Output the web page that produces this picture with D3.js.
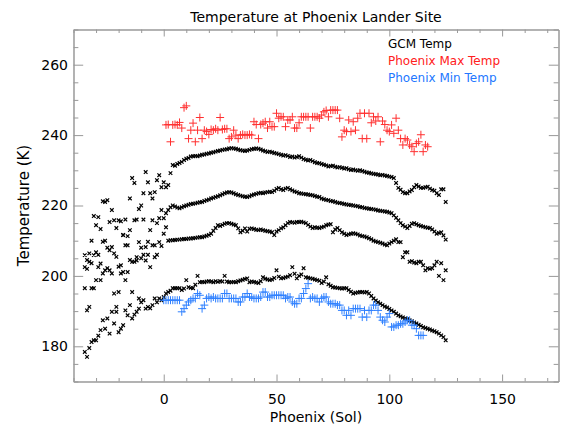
<!DOCTYPE html>
<html>
<head>
<meta charset="utf-8">
<script src="https://cdn.jsdelivr.net/npm/d3@7/dist/d3.min.js"></script>
<style>
  html, body { margin: 0; padding: 0; background: #fff; }
  text { font-family: "DejaVu Sans", sans-serif; }
</style>
</head>
<body>
<svg id="chart" width="563" height="427"></svg>
<script>
// ---------------- DATA ----------------
const title = "Temperature at Phoenix Lander Site";
const xTitle = "Phoenix (Sol)";
const yTitle = "Temperature (K)";
const legendLabels = ["GCM Temp", "Phoenix Max Temp", "Phoenix Min Temp"];
const xTicks = [0, 50, 100, 150];
const yTicks = [180, 200, 220, 240, 260];

// GCM series, one value per sol starting at gcmStartSol
const gcmStartSol = -35;
const gcmA = [
  205.9, 204.5, 206.4, 210, 217, 214.4, 216.7, 213.3, 221.2, 221,
  221.5, 215.3, 218.7, 215.8, 213.6, 215.8, 215.5, 211.6, 216, 211.3,
  222, 227.8, 226.4, 216, 219, 220, 223.5, 229.5, 226.6, 223.5,
  222, 223.8, 227.2, 228.6, 225.2,
  226.6, 225.2, 225.8, 229.2, 231.5, 231.3, 231.8, 232.1, 232.4, 232.9,
  233.3, 233.5, 233.9, 234, 234.1, 234, 234.2, 234.4, 234.5, 234.7,
  234.8, 235, 235.1, 235.3, 235.5, 235.6, 235.8, 235.9, 236, 236.2,
  236.3, 236.2, 236.1, 235.9, 235.7, 235.6, 235.5, 235.6, 235.8, 236,
  236.1, 236.2, 236.1, 235.9, 235.6, 235.4, 235.2, 235.3, 235.1, 234.9,
  234.8, 234.6, 234.4, 234.2, 234.3, 234.1, 233.8, 233.9, 233.6, 233.8,
  234, 233.6, 233.2, 233, 232.8, 232.9, 232.6, 232.3, 232.1, 232,
  231.8, 231.6, 231.4, 231.1, 231.2, 231.3, 231, 230.8, 230.9, 230.7,
  230.5, 230.6, 230.3, 230.1, 230.2, 230, 229.9, 230, 229.8, 229.6,
  229.4, 229.3, 229.1, 229, 228.9, 228.8, 228.6, 228.7, 228.5, 228.4,
  228.2, 228.1, 227.8, 226.4, 225, 224.5, 223.8, 223.5, 223.5, 224,
  224.4, 225.2, 225.8, 225.4, 225, 225, 225.2, 225.3, 224.8, 224.4,
  224.2, 223.5, 223, 224.6, 224.6, 221
];
const gcmB = [
  202.5, 202, 204, 203.6, 205.9, 206.7, 206, 203.5, 209.7, 210,
  208, 207.3, 208.2, 206.4, 205.4, 202.6, 203, 211.6, 208.7, 208.7,
  213, 204, 215.8, 205.3, 209.6, 208, 216, 208.2, 209.7, 213,
  215.8, 208.7, 215, 216.4, 218.7,
  216.4, 217.8, 218.7, 219.5, 220, 219.7, 219.4, 219.2, 219.5, 219.8,
  220, 220.2, 220.4, 220.5, 220.6, 220.8, 220.9, 221, 221.3, 221.5,
  221.7, 222, 222.2, 222.4, 222.6, 222.9, 223.2, 223.5, 223.7, 223.8,
  223.7, 223.5, 223.2, 223, 222.8, 222.6, 222.5, 222.4, 222.6, 222.9,
  223.1, 223.3, 223.5, 223.6, 223.5, 223.7, 223.8, 223.9, 223.8, 224.2,
  224.7, 225, 224.6, 224.4, 224.8, 225, 224.6, 224.3, 224, 223.8,
  223.5, 223.4, 223.3, 223.2, 223.1, 223, 222.9, 222.7, 222.5, 222.4,
  222, 221.8, 221.6, 221.5, 221.3, 221.2, 221, 220.8, 220.7, 220.6,
  220.4, 220.3, 220.2, 220.1, 220, 219.9, 219.8, 219.6, 219.5, 219.3,
  219.2, 219.1, 219, 218.9, 218.8, 218.6, 218.5, 218.4, 218.3, 218.2,
  218, 217.8, 217.2, 216.5, 215.8, 215, 214.4, 214, 213.6, 214.2,
  214.8, 215, 214.7, 214.4, 214.2, 214, 213.8, 213.7, 213.6, 213.2,
  212.6, 212, 212.2, 212.4, 211.5, 210.3
];
const gcmC = [
  196.5, 190.2, 191.2, 196.5, 196.5, 198.8, 202.5, 198.8, 200.7, 201.6,
  202.2, 201.6, 200.7, 195, 191.2, 195.4, 200.7, 201.1, 198.8, 201.1,
  204.5, 195.4, 204, 204.4, 193.6, 205, 206, 204.4, 206, 202.5,
  208.7, 205.3, 206, 209.6, 208.5,
  212, 213.8, 210, 210.1, 210.1, 210.2, 210.3, 210.3, 210.4, 210.5,
  210.5, 210.6, 210.6, 210.7, 210.8, 210.9, 211, 211, 211.2, 211.4,
  211.6, 212, 212.8, 213.6, 214.4, 214.2, 214.5, 214.8, 215, 215,
  214.8, 214.6, 214.4, 213.5, 212.4, 212.8, 213.5, 212.6, 213.4, 213.5,
  213.3, 213.1, 213, 213.2, 213, 212.8, 212.7, 212.6, 212.4, 211.6,
  212.6, 213, 213.5, 213.8, 214.4, 215, 215.3, 215.2, 215.1, 215.3,
  215.3, 215.4, 215.2, 215, 214.5, 214, 213.6, 213.8, 213.7, 213.6,
  213.8, 214, 214.4, 214.6, 214.7, 212.4, 213.2, 213.6, 213, 212.4,
  212, 211.6, 211.8, 212, 212.1, 212, 211.8, 211.5, 211.3, 211.2,
  211, 210.7, 210.4, 210, 209.8, 209.6, 209.4, 209.2, 208.9, 208.7,
  209.2, 209.6, 210, 210.4, 209.6, 209.6, 205.3, 206.7, 206.7, 204,
  204.2, 203.8, 203.6, 204, 204, 203, 201.6, 202.2, 202, 202.2,
  203, 204, 200, 203.6, 198.8, 201.6
];
const gcmD = [
  178.4, 177, 179.5, 181.2, 181.7, 181.7, 183, 184.6, 187.4, 185,
  187.9, 183.6, 189.8, 186.5, 189.8, 184, 185, 186, 190.2, 188.8,
  191.7, 187.9, 189, 189.8, 190.7, 192.5, 193.1, 190.7, 191.2, 190.8,
  191.7, 193.6, 192.5, 193.6, 193.1,
  194, 195, 195.4, 195.8, 196.5, 196.5, 196.5, 196.5, 196, 196.4,
  198.8, 196.8, 196.6, 196.5, 197.5, 200, 198.2, 198.3, 198.2, 198.4,
  198.5, 198.4, 198.2, 198.5, 198.3, 198.5, 198.4, 200, 198.4, 198.2,
  198.2, 198.3, 198.2, 198.5, 198.7, 198.9, 199.1, 199.3, 198.2, 198.4,
  198.3, 198.1, 198, 198.5, 199.6, 199.2, 199, 198.8, 199, 199.4,
  201.6, 199.8, 199.3, 199.4, 199.6, 199.8, 200.2, 202.5, 200.6, 199.3,
  200, 200.4, 202.2, 199.6, 199.5, 199.3, 199.2, 199, 198.8, 198.6,
  198, 198.4, 199.6, 197.6, 197.2, 196.8, 196.7, 196.6, 196.5, 196.4,
  196.5, 196.5, 196, 195.5, 195, 195.2, 195.3, 195.4, 195.4, 195.3,
  195.4, 195, 194.3, 193.6, 193, 192.5, 192.1, 191.7, 191.3, 191,
  190.6, 190.2, 189.8, 189.3, 188.8, 188.5, 188.2, 187.9, 187.7, 187.4,
  187.1, 186.8, 186.5, 186.1, 185.8, 185.4, 185.2, 185, 184.8, 184.5,
  184.3, 184, 183.6, 183.1, 182.6, 181.7
];

// Phoenix measured maximum temperature, one value per sol from maxStartSol
const maxStartSol = 1;
const maxTemp = [
  242.9, 243, 238.1, 242.9, 243, 242.9, 243.6, 242, 247.8, 248.3,
  239, 241.4, 243.4, 238.1, 241.4, 245, 239, 241.4, 241, 240.2,
  241.6, 241.4, 241.8, 241.4, 245, 241.6, 241.8, 241.8, 239, 239.5,
  241.4, 240, 239, 240, 240.2, 240, 240, 240.2, 240, 243.8,
  243, 239, 243, 243.4, 243.8, 242, 243.8, 242.4, 242.4, 246.2,
  244.8, 245.2, 245.2, 242.4, 244.3, 244.3, 245.2, 242, 242, 243.5,
  245.2, 245.2, 245.2, 245.2, 242, 245.2, 245.2, 245.2, 244.8, 245.7,
  246.6, 247, 245.2, 247.1, 247.1, 247.1, 247.1, 244.8, 239.5, 241.4,
  241, 244.3, 241, 243.8, 241.4, 244.8, 246.2, 239, 246.2, 239,
  246.2, 243.5, 245.2, 244, 245.2, 238.1, 244, 243, 241.4, 241,
  242.9, 240.5, 244.8, 241.4, 239, 237.2, 239, 238.6, 237.2, 236.7,
  235.3, 237.6, 238.1, 240.1, 235.3, 237.2, 236.7
];

// Phoenix measured minimum temperature, one value per sol from minStartSol
const minStartSol = 0;
const minTemp = [
  193.1, 193.1, 193.1, 193.1, 193.1, 193.1, 193.1, 193.1, 189.8, 190.7,
  191.7, 192.6, 193.1, 193.6, 193.6, 195, 194.5, 190.7, 191.7, 193.6,
  194, 193.6, 194, 193.6, 193.6, 193.6, 193.6, 195, 195, 193.6,
  193.6, 193.6, 193.6, 192.6, 192.6, 194, 194, 195, 194, 194,
  193.6, 193.6, 193.6, 194, 195.4, 195.4, 194, 194, 194.5, 194.5,
  194.5, 194.5, 194.5, 194.5, 193.6, 194, 194, 192.6, 192.1, 192.1,
  193.6, 193.6, 195, 196.4, 197.8, 193.6, 194, 193.6, 193.6, 192.6,
  193.6, 194, 194, 192.6, 192.1, 192.1, 192.1, 191.7, 191.7, 190.2,
  190.2, 188.8, 190.2, 188.8, 190.7, 190.7, 190.7, 190.7, 188.3, 190.2,
  188.3, 190.2, 190.2, 191.7, 191.7, 190.2, 188.3, 187.4, 186.9, 188.3,
  189.3, 185.5, 185.5, 186, 186, 186.4, 186.4, 186.9, 187.4, 187.4,
  186, 186, 185, 183.1, 183.1, 183.1
];

// ---------------- CHART ----------------
const svg = d3.select("#chart");
const L = 73.5, R = 558.5, T = 29.5, B = 381.5;
const x = d3.scaleLinear().domain([-40, 175]).range([L, R]);
const y = d3.scaleLinear().domain([170, 270]).range([B, T]);

const axisColor = "#999";
const xMinor = d3.range(-40, 176, 10).filter(v => !xTicks.includes(v));
const yMinor = d3.range(170, 271, 5).filter(v => !yTicks.includes(v));

function styleAxis(g) {
  g.selectAll("path.domain").attr("stroke", axisColor).attr("stroke-width", 1);
  g.selectAll(".tick line").attr("stroke", axisColor).attr("stroke-width", 1);
  g.selectAll(".tick text").attr("fill", "#000")
    .style("font-family", "'DejaVu Sans', sans-serif").style("font-size", "14px");
}

const xLen = 7, yLen = 9.7;
// bottom
svg.append("g").attr("transform", `translate(0,${B})`)
  .call(d3.axisBottom(x).tickValues(xMinor).tickSizeInner(-xLen / 2).tickSizeOuter(0).tickFormat(""))
  .call(styleAxis);
svg.append("g").attr("transform", `translate(0,${B})`)
  .call(d3.axisBottom(x).tickValues(xTicks).tickSizeInner(-xLen).tickSizeOuter(0).tickPadding(12.5).tickFormat(d3.format("d")))
  .call(styleAxis);
// top
svg.append("g").attr("transform", `translate(0,${T})`)
  .call(d3.axisTop(x).tickValues(xMinor).tickSizeInner(-xLen / 2).tickSizeOuter(0).tickFormat(""))
  .call(styleAxis);
svg.append("g").attr("transform", `translate(0,${T})`)
  .call(d3.axisTop(x).tickValues(xTicks).tickSizeInner(-xLen).tickSizeOuter(0).tickFormat(""))
  .call(styleAxis);
// left
svg.append("g").attr("transform", `translate(${L},0)`)
  .call(d3.axisLeft(y).tickValues(yMinor).tickSizeInner(-yLen / 2).tickSizeOuter(0).tickFormat(""))
  .call(styleAxis);
svg.append("g").attr("transform", `translate(${L},0)`)
  .call(d3.axisLeft(y).tickValues(yTicks).tickSizeInner(-yLen).tickSizeOuter(0).tickPadding(5.5).tickFormat(d3.format("d")))
  .call(styleAxis);
// right
svg.append("g").attr("transform", `translate(${R},0)`)
  .call(d3.axisRight(y).tickValues(yMinor).tickSizeInner(-yLen / 2).tickSizeOuter(0).tickFormat(""))
  .call(styleAxis);
svg.append("g").attr("transform", `translate(${R},0)`)
  .call(d3.axisRight(y).tickValues(yTicks).tickSizeInner(-yLen).tickSizeOuter(0).tickFormat(""))
  .call(styleAxis);

// titles
svg.append("text").attr("x", (L + R) / 2).attr("y", 22).attr("text-anchor", "middle")
  .style("font-size", "14px").attr("fill", "#000").text(title);
svg.append("text").attr("x", (L + R) / 2).attr("y", 422).attr("text-anchor", "middle")
  .style("font-size", "14px").attr("fill", "#000").text(xTitle);
svg.append("text").attr("transform", `translate(29,${(T + B) / 2}) rotate(-90)`).attr("text-anchor", "middle")
  .style("font-size", "15px").attr("fill", "#000").text(yTitle);

// markers
const xSym = "M-1.8,-1.8L1.8,1.8M-1.8,1.8L1.8,-1.8";
const plusSym = "M-4,0L4,0M0,-4L0,4";

const gcmPts = [];
[gcmA, gcmB, gcmC, gcmD].forEach(arr => arr.forEach((v, i) => gcmPts.push({ s: gcmStartSol + i, t: v })));
svg.append("g").selectAll("path").data(gcmPts).join("path")
  .attr("transform", d => `translate(${x(d.s)},${y(d.t)})`)
  .attr("d", xSym).attr("stroke", "#000").attr("stroke-width", 1.2).attr("fill", "none");

const maxPts = maxTemp.map((v, i) => ({ s: maxStartSol + i, t: v }));
svg.append("g").selectAll("path").data(maxPts).join("path")
  .attr("transform", d => `translate(${x(d.s)},${y(d.t)})`)
  .attr("d", plusSym).attr("stroke", "#ff3030").attr("stroke-width", 1).attr("fill", "none");

const minPts = minTemp.map((v, i) => ({ s: minStartSol + i, t: v }));
svg.append("g").selectAll("path").data(minPts).join("path")
  .attr("transform", d => `translate(${x(d.s)},${y(d.t)})`)
  .attr("d", plusSym).attr("stroke", "#2f80ff").attr("stroke-width", 1).attr("fill", "none");

// legend
const legendColors = ["#000", "#ff2020", "#2277ff"];
svg.append("g").selectAll("text").data(legendLabels).join("text")
  .attr("x", 388).attr("y", (d, i) => 48 + i * 17)
  .style("font-size", "12px").attr("fill", (d, i) => legendColors[i]).text(d => d);
</script>
</body>
</html>
